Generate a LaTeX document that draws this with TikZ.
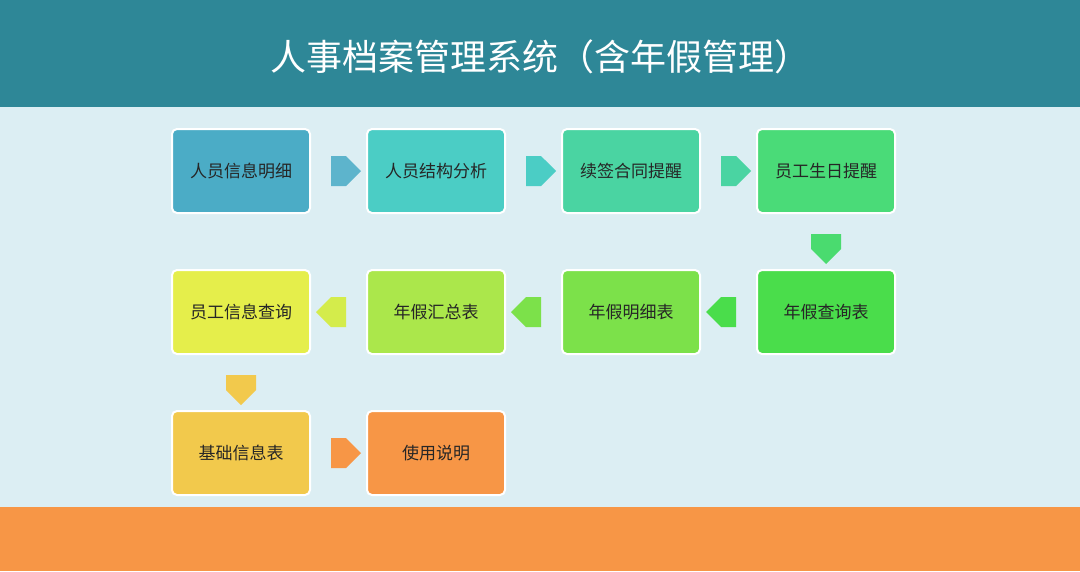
\documentclass[tikz,border=0pt]{standalone}
\usepackage{fontspec}
\setmainfont{Noto Sans CJK SC}
\usetikzlibrary{shapes.arrows,calc}
\definecolor{bgc}{HTML}{DCEEF3}
\definecolor{titc}{HTML}{2E8797}
\definecolor{orc}{HTML}{F79646}
\definecolor{c1}{HTML}{4BACC6}
\definecolor{c2}{HTML}{4BCDC5}
\definecolor{c3}{HTML}{4AD4A2}
\definecolor{c4}{HTML}{4ADB78}
\definecolor{c5}{HTML}{4ADD4B}
\definecolor{c6}{HTML}{7CE14A}
\definecolor{c7}{HTML}{ABE74B}
\definecolor{c8}{HTML}{E5EE4B}
\definecolor{c9}{HTML}{F2C94C}
\definecolor{c10}{HTML}{F79646}
\tikzset{
 box/.style={draw=white, line width=2pt, rounded corners=5pt, minimum width=138pt, minimum height=84pt, font=\fontsize{17}{20}\selectfont, text=black!85},
 arr/.style={single arrow, draw=none, minimum width=30pt, single arrow head extend=0pt, minimum height=30pt, inner sep=4pt, shape border rotate=#1},
}
\begin{document}
\begin{tikzpicture}[x=1pt,y=-1pt]
\useasboundingbox (0,0) rectangle (1080,571);
\fill[bgc] (0,0) rectangle (1080,571);
\fill[titc] (0,0) rectangle (1080,107);
\fill[orc] (0,507) rectangle (1080,571);
\node[text=white, font=\fontsize{36}{40}\selectfont] (title) at (540,57) {人事档案管理系统（含年假管理）};
\node[box, fill=c1] (b1) at (241,171) {人员信息明细};
\node[box, fill=c2] (b2) at (436,171) {人员结构分析};
\node[box, fill=c3] (b3) at (631,171) {续签合同提醒};
\node[box, fill=c4] (b4) at (826,171) {员工生日提醒};
\node[box, fill=c5] (b5) at (826,312) {年假查询表};
\node[box, fill=c6] (b6) at (631,312) {年假明细表};
\node[box, fill=c7] (b7) at (436,312) {年假汇总表};
\node[box, fill=c8] (b8) at (241,312) {员工信息查询};
\node[box, fill=c9] (b9) at (241,453) {基础信息表};
\node[box, fill=c10] (b10) at (436,453) {使用说明};
\node[arr=0, fill=c1!90!white] (a1) at ($(b1)!0.5!(b2)$) {};
\node[arr=0, fill=c2] (a2) at ($(b2)!0.5!(b3)$) {};
\node[arr=0, fill=c3] (a3) at ($(b3)!0.5!(b4)$) {};
\node[arr=270, fill=c4!80!c5] (a4) at ($(b4)!0.5!(b5)$) {};
\node[arr=180, fill=c5] (a5) at ($(b5)!0.5!(b6)$) {};
\node[arr=180, fill=c6] (a6) at ($(b6)!0.5!(b7)$) {};
\node[arr=180, fill=c8!70!c7] (a7) at ($(b7)!0.5!(b8)$) {};
\node[arr=270, fill=c9] (a8) at ($(b8)!0.5!(b9)$) {};
\node[arr=0, fill=c10] (a9) at ($(b9)!0.5!(b10)$) {};
\end{tikzpicture}
\end{document}
